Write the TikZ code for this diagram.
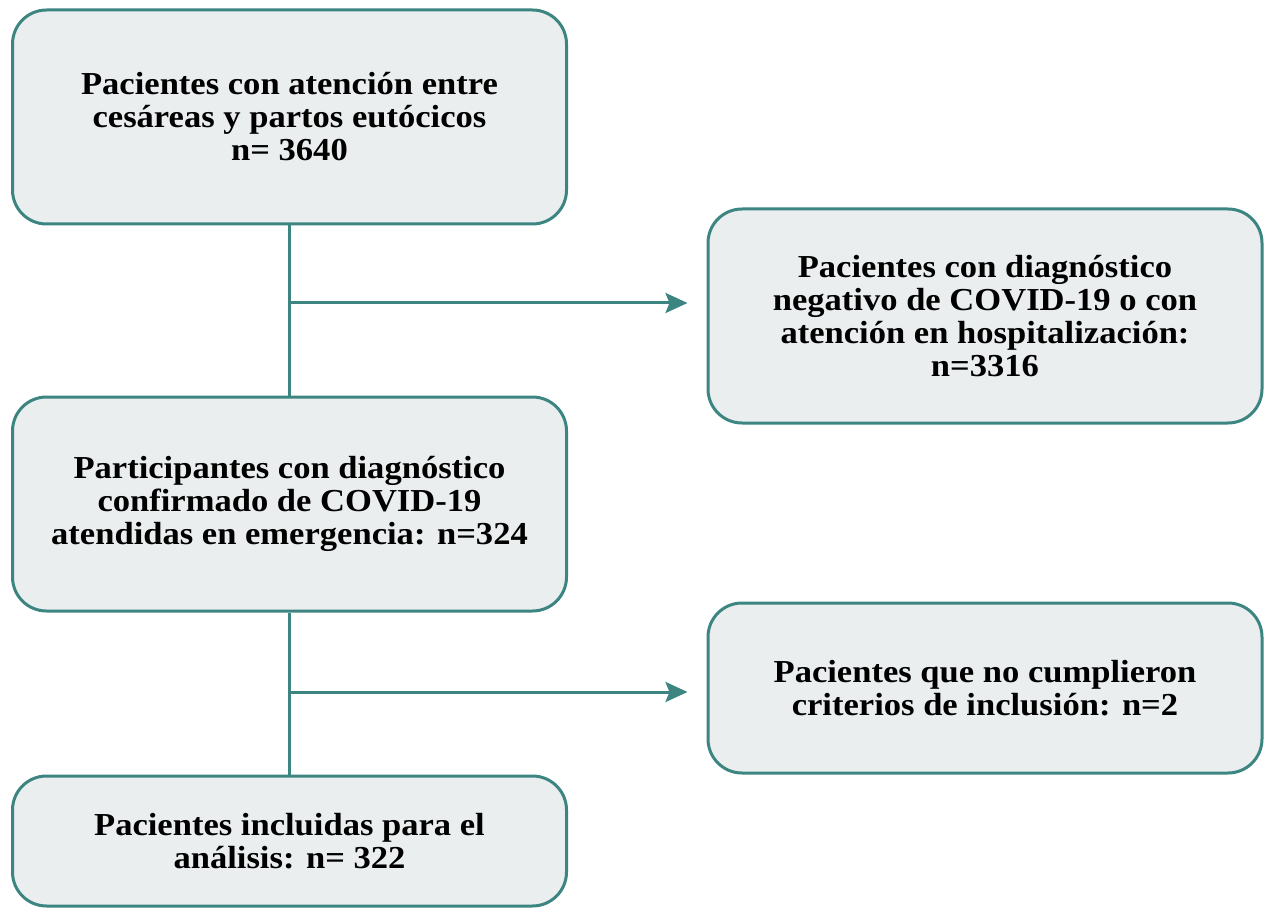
\documentclass[tikz,border=0pt]{standalone}
\usepackage{fontspec}
\setmainfont[FakeStretch=1.08]{Liberation Serif}
\usetikzlibrary{arrows.meta}
\definecolor{flowline}{HTML}{3C8581}
\definecolor{flowfill}{HTML}{EAEEEF}
\begin{document}
\begin{tikzpicture}[x=0.5pt, y=-0.5pt,
   box/.style={draw=flowline, fill=flowfill, line width=1.5pt, rounded corners=17pt,
      minimum width=277pt, align=center, font=\bfseries\fontsize{16}{16.5}\selectfont},
   link/.style={draw=flowline, line width=1.5pt},
   tip/.style={-{Stealth[length=11pt, width=10pt, inset=2pt]}, shorten >=9.5pt}]
   \useasboundingbox (0,0) rectangle (1264,909);
   \node[box, minimum height=107pt] (total) at (289.5,117) {Pacientes con atención entre\\cesáreas y partos eutócicos\\n= 3640};
   \node[box, minimum height=107pt] (neg) at (985,316) {Pacientes con diagnóstico\\negativo de COVID-19 o con\\atención en hospitalización:\\n=3316};
   \node[box, minimum height=107pt] (conf) at (289.5,504) {Participantes con diagnóstico\\confirmado de COVID-19\\atendidas en emergencia: n=324};
   \node[box, minimum height=85pt] (nocrit) at (985,688) {Pacientes que no cumplieron\\criterios de inclusión: n=2};
   \node[box, minimum height=65pt] (incl) at (289.5,841) {Pacientes incluidas para el\\análisis: n= 322};
   \coordinate (j1) at (289.5,303);
   \coordinate (j2) at (289.5,692);
   \draw[link] (total) -- (conf);
   \draw[link] (conf) -- (incl);
   \draw[link, tip] (j1) -- (j1 -| neg.west);
   \draw[link, tip] (j2) -- (j2 -| nocrit.west);
\end{tikzpicture}
\end{document}
